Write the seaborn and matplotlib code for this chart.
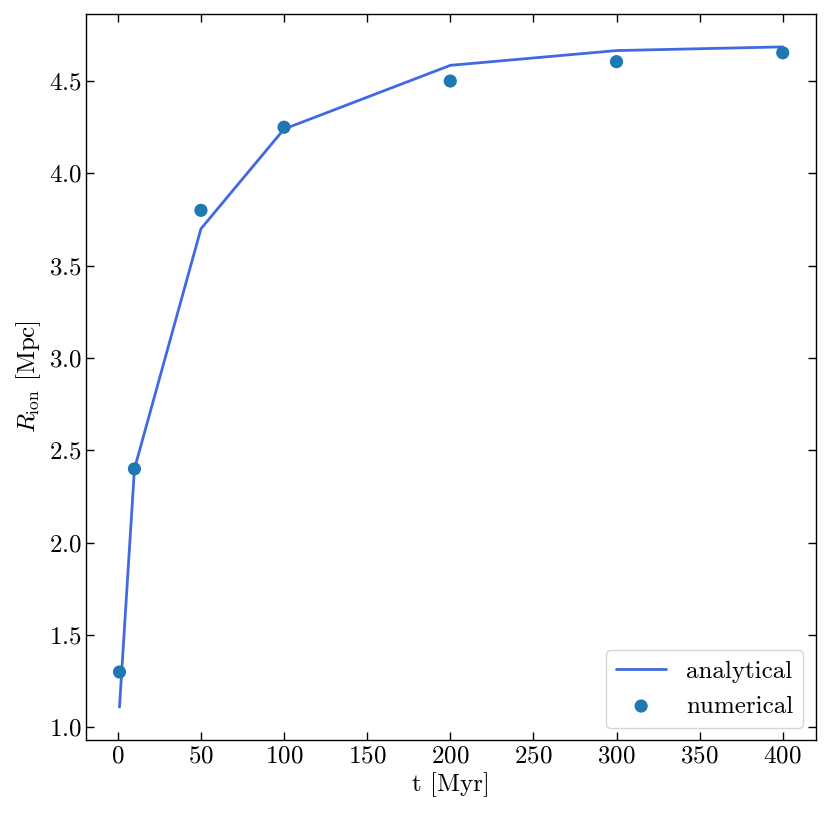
import numpy as np
import pandas as pd
import matplotlib
matplotlib.use('Agg')
import matplotlib.pyplot as plt
import seaborn as sns

# analytical curve
t_analytic = [1, 10, 50, 100, 200, 300, 400]
r_analytic = [1.11, 2.40, 3.70, 4.24, 4.585, 4.665, 4.685]

# numerical points
t_numeric = [1, 10, 50, 100, 200, 300, 400]
r_numeric = [1.30, 2.40, 3.80, 4.25, 4.50, 4.605, 4.653]

sns.set_style('ticks', {'text.color': 'black', 'axes.labelcolor': 'black',
                        'xtick.color': 'black', 'ytick.color': 'black',
                        'axes.edgecolor': 'black'})
plt.rcParams['font.family'] = ['cmr10', 'DejaVu Serif']
plt.rcParams['mathtext.fontset'] = 'cm'
plt.rcParams['axes.formatter.use_mathtext'] = True
plt.rcParams['axes.unicode_minus'] = False

df_a = pd.DataFrame({'t': t_analytic, 'r': r_analytic})
df_n = pd.DataFrame({'t': t_numeric, 'r': r_numeric})

fig, ax = plt.subplots(figsize=(8.3, 8.16), dpi=100)
fig.subplots_adjust(left=0.104, right=0.983, top=0.983, bottom=0.093)

sns.lineplot(data=df_a, x='t', y='r', color='royalblue', lw=2, label='analytical', ax=ax)
sns.scatterplot(data=df_n, x='t', y='r', color='#1f77b4', s=90, edgecolor='none',
                label='numerical', ax=ax, zorder=3)

ax.set_xlabel('t [Myr]', fontsize=18)
ax.set_ylabel(r'$R_{\rm ion}$ [Mpc]', fontsize=18)
ax.set_yticks([1.0, 1.5, 2.0, 2.5, 3.0, 3.5, 4.0, 4.5])
ax.set_xticks([0, 50, 100, 150, 200, 250, 300, 350, 400])
ax.tick_params(direction='in', top=True, right=True, labelsize=18, length=6, width=1)
for sp in ax.spines.values():
    sp.set_linewidth(1)
    sp.set_color('black')

ax.legend(loc='lower right', fontsize=18, frameon=True)

fig.savefig('out.png', dpi=100)
